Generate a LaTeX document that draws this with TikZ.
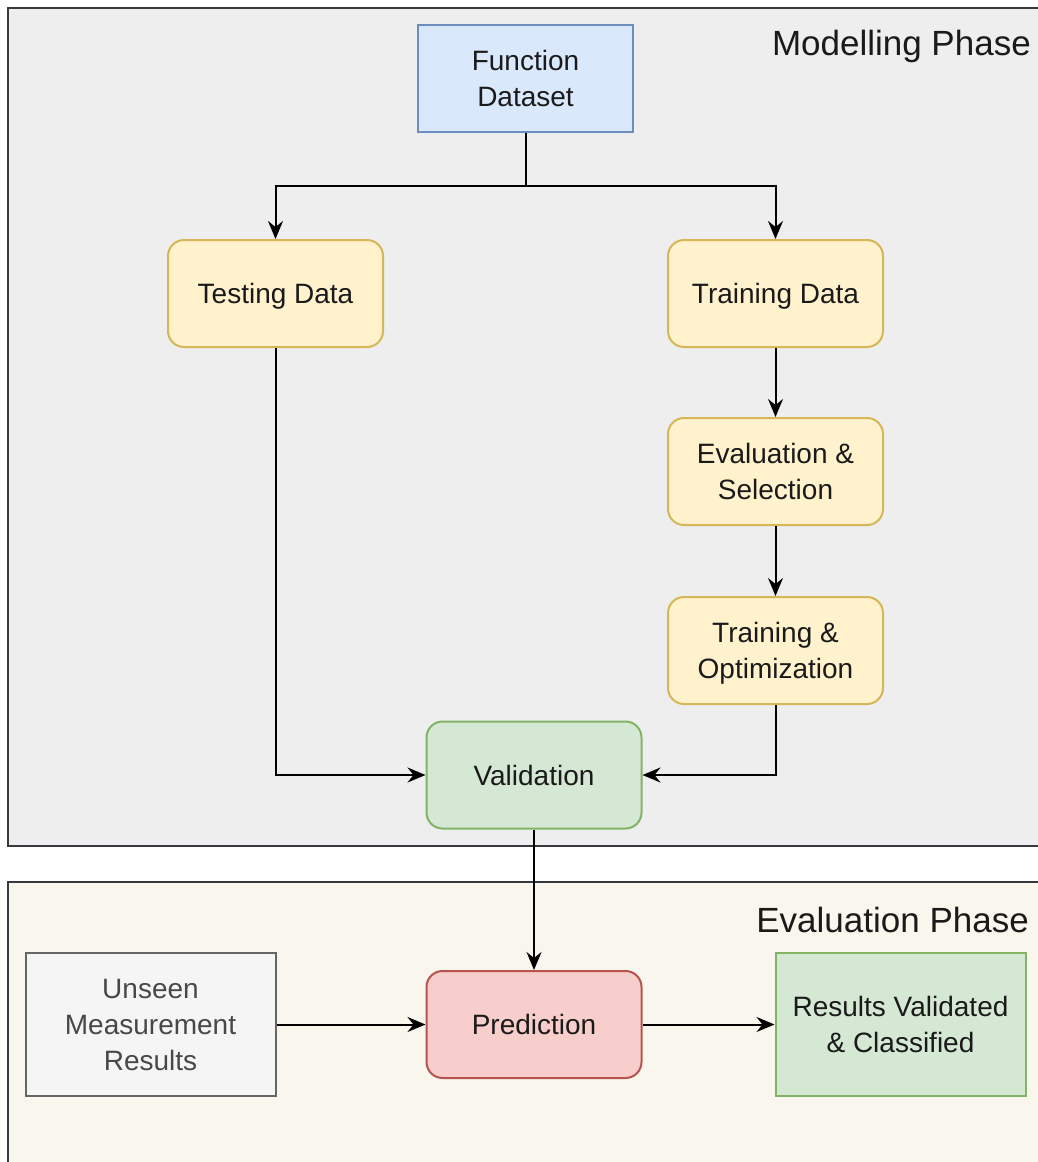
\documentclass[tikz,border=0pt]{standalone}
\usepackage{fontspec}
\setmainfont{Liberation Sans}
\usetikzlibrary{arrows.meta}
\definecolor{phasegray}{HTML}{EEEEEE}
\definecolor{phasecream}{HTML}{F9F7ED}
\definecolor{phaseline}{HTML}{36393D}
\definecolor{blueFill}{HTML}{DAE8FC}
\definecolor{blueLine}{HTML}{6C8EBF}
\definecolor{yellowFill}{HTML}{FFF2CC}
\definecolor{yellowLine}{HTML}{D6B656}
\definecolor{greenFill}{HTML}{D5E8D4}
\definecolor{greenLine}{HTML}{82B366}
\definecolor{redFill}{HTML}{F8CECC}
\definecolor{redLine}{HTML}{B85450}
\definecolor{grayFill}{HTML}{F5F5F5}
\definecolor{grayLine}{HTML}{666666}
\definecolor{textDark}{HTML}{1A1A1A}
\tikzset{
  box/.style={draw, line width=2pt, minimum width=215pt, minimum height=107pt,
    align=center, font=\fontsize{28}{36}\selectfont, text=textDark, inner sep=0pt,
    text depth=0pt},
  roundbox/.style={box, rounded corners=16pt},
  yellowbox/.style={roundbox, fill=yellowFill, draw=yellowLine},
  phase/.style={draw=phaseline, line width=2.2pt},
  phasetitle/.style={anchor=east, font=\fontsize{35}{42}\selectfont, text=textDark, inner sep=0pt},
  flow/.style={draw=black, line width=2pt, -{Stealth[length=18pt,width=15pt,inset=6pt]}},
  link/.style={draw=black, line width=2pt}
}
\begin{document}
\begin{tikzpicture}[x=1pt,y=-1pt]
  \useasboundingbox (0,0) rectangle (1038,1162);
  \clip (0,0) rectangle (1038,1162);

  % phase containers
  \draw[phase, fill=phasegray] (8,8) rectangle (1060,846);
  \draw[phase, fill=phasecream] (8,882) rectangle (1060,1180);
  \node[phasetitle] (mtitle) at (1031,46) {Modelling Phase};
  \node[phasetitle] (etitle) at (1029,920) {Evaluation Phase};

  % modelling nodes
  \node[box, fill=blueFill, draw=blueLine] (fd) at (525.5,78.5) {Function\\Dataset};
  \node[yellowbox] (test) at (275.5,293.5) {Testing Data};
  \node[yellowbox] (train) at (775.5,293.5) {Training Data};
  \node[yellowbox] (evsel) at (775.5,471.5) {Evaluation \&\\Selection};
  \node[yellowbox] (topt) at (775.5,650.5) {Training \&\\Optimization};
  \node[roundbox, fill=greenFill, draw=greenLine] (val) at (534,775) {Validation};

  % evaluation nodes
  \node[roundbox, fill=redFill, draw=redLine] (pred) at (534,1024.5) {Prediction};
  \node[box, fill=grayFill, draw=grayLine, minimum width=250pt, minimum height=143pt,
        text=textDark!80] (unseen) at (150.5,1024.5) {Unseen\\Measurement\\Results};
  \node[box, fill=greenFill, draw=greenLine, minimum width=250pt, minimum height=143pt]
        (res) at (900.5,1024.5) {Results Validated\\\& Classified};

  % connectors
  \coordinate (split) at (525.5,186);
  \draw[link] (fd.south) -- (split);
  \draw[flow] (split) -| (test.north);
  \draw[flow] (split) -| (train.north);
  \draw[flow] (train) -- (evsel);
  \draw[flow] (evsel) -- (topt);
  \draw[flow] (test.south) |- (val.west);
  \draw[flow] (topt.south) |- (val.east);
  \draw[flow] (val) -- (pred);
  \draw[flow] (unseen) -- (pred);
  \draw[flow] (pred) -- (res);
\end{tikzpicture}
\end{document}
